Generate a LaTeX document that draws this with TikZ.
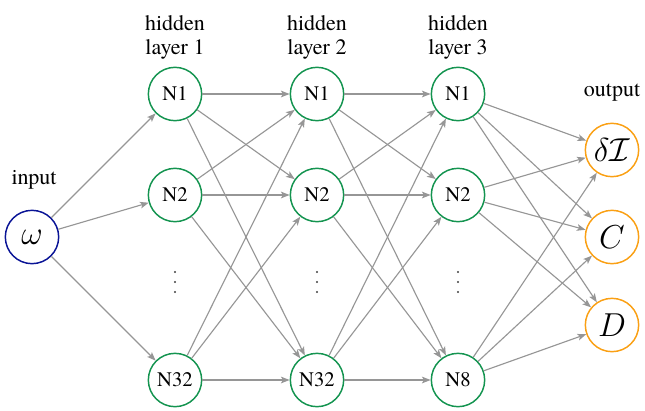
\documentclass[tikz,border=0pt]{standalone}
\usepackage{amsmath}
\usepackage{fontspec}
\setmainfont{TeX Gyre Termes}
\usepackage{xcolor}
\usepackage{tikz}
\usetikzlibrary{arrows.meta}
\definecolor{hidgreen}{RGB}{20,148,80}
\definecolor{inblue}{RGB}{10,20,150}
\definecolor{outorange}{RGB}{250,160,20}
\definecolor{linkgray}{RGB}{150,150,150}
\tikzset{
  neuron/.style={circle,draw=hidgreen,line width=1.1pt,minimum size=40pt,inner sep=0pt,font=\fontsize{15.5}{17}\selectfont},
  inneuron/.style={neuron,draw=inblue,font=\fontsize{24}{26}\selectfont},
  outneuron/.style={neuron,draw=outorange,font=\fontsize{24}{26}\selectfont},
  link/.style={draw=linkgray,line width=0.85pt,-{Stealth[length=6.5pt,width=5pt,inset=1.5pt]}},
  layertitle/.style={align=center,inner sep=0pt}
}

\begin{document}
\begin{tikzpicture}[x=0.75pt,y=-0.75pt,font=\rmfamily\fontsize{16.5}{18}\selectfont]
\useasboundingbox (0,0) rectangle (645,410);

% Input
\node[inneuron] (in) at (32,237) {$\omega$};
\node[layertitle] at (34,180) {input};

% Hidden layers
\foreach \l/\x in {1/175,2/317,3/458}{
  \node[layertitle] at (\x,37) {hidden\\layer \l};
  \node[neuron] (h\l a) at (\x,94) {N1};
  \node[neuron] (h\l b) at (\x,195) {N2};
  % vertical dots
  \foreach \dy in {-10,0,10}
    \fill[black!75] (\x,282+\dy) circle (0.9pt);
}
\node[neuron] (h1c) at (175,380) {N32};
\node[neuron] (h2c) at (317,380) {N32};
\node[neuron] (h3c) at (458,380) {N8};

% Outputs
\node[layertitle] at (612,93) {output};
\node[outneuron] (o1) at (612,150) {$\delta\mathcal{I}$};
\node[outneuron] (o2) at (612,237) {$C$};
\node[outneuron] (o3) at (612,325) {$D$};

% Connections
\foreach \t in {a,b,c}
  \draw[link] (in) -- (h1\t);
\foreach \s in {a,b,c}{
  \foreach \t in {a,b,c}{
    \draw[link] (h1\s) -- (h2\t);
    \draw[link] (h2\s) -- (h3\t);
  }
  \foreach \t in {1,2,3}
    \draw[link] (h3\s) -- (o\t);
}
\end{tikzpicture}
\end{document}
